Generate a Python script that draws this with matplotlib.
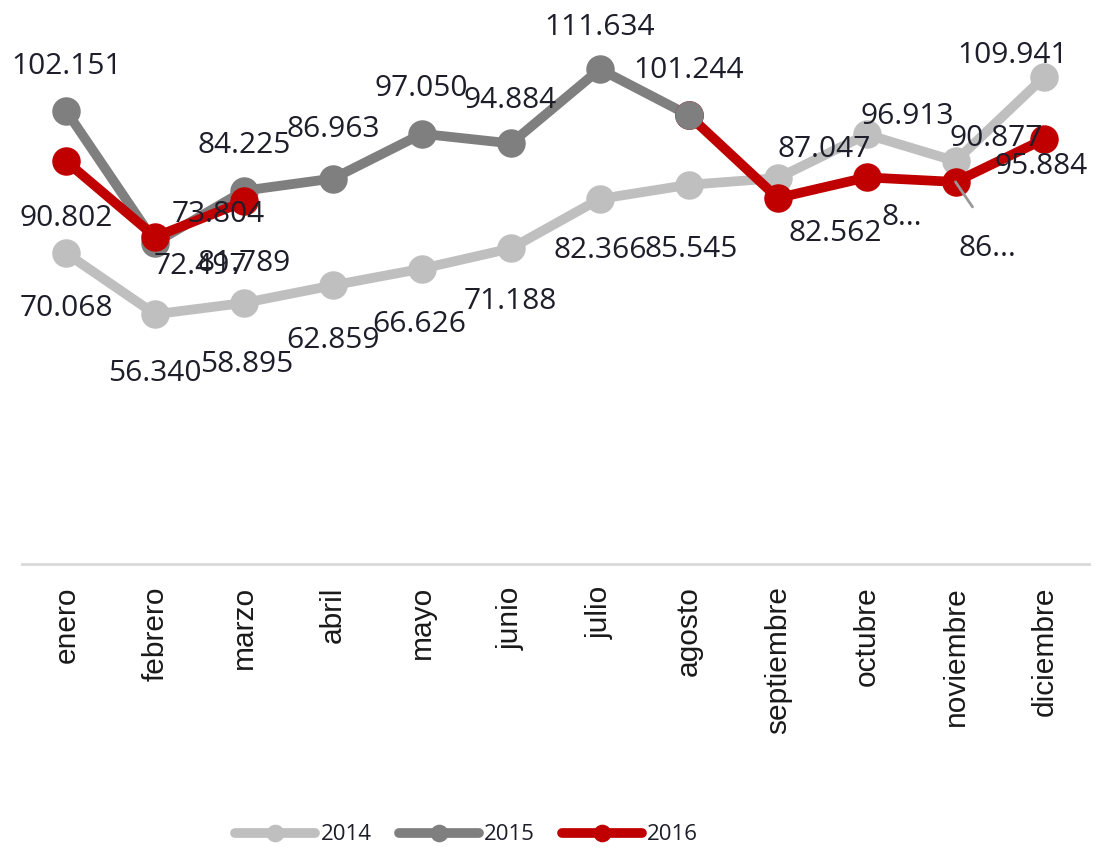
"""
Monthly values 2014-2016 as a line chart with data labels, in Spanish.
"""

import numpy as np
import matplotlib.pyplot as plt

PLOT_FILE = "out.png"

# Categories and series
MONTHS = ["enero", "febrero", "marzo", "abril", "mayo", "junio", "julio",
          "agosto", "septiembre", "octubre", "noviembre", "diciembre"]
YEARS = ["2014", "2015", "2016"]

VALUES_2014 = [70.068, 56.340, 58.895, 62.859, 66.626, 71.188, 82.366,
               85.545, 87.047, 96.913, 90.877, 109.941]
VALUES_2015 = [102.151, 72.497, 84.225, 86.963, 97.050, 94.884, 111.634,
               101.244, np.nan, np.nan, np.nan, np.nan]
VALUES_2016 = [90.802, 73.804, 81.789, np.nan, np.nan, np.nan, np.nan,
               101.244, 82.562, 87.214, 86.195, 95.884]

# Characters kept of each 2016 label (None = full label, 0 = no label)
TRUNC_2016 = [None, None, None, 0, 0, 0, 0, 0, None, 1, 2, None]

# Style
COLORS = {"2014": "#BFBFBF", "2015": "#7F7F7F", "2016": "#C00000"}
LABEL_COLOR = "#1E1E2A"
LABEL_FONT = "Open Sans"
TICK_FONT = "Liberation Sans"

# Label offsets in pixels (dx, dy up)
OFFSETS_2014 = [(0, -55), (0, -59), (2, -62), (0, -55), (-3, -56), (-1, -53),
                (0, -52), (2, -65), (47, 29), (41, 18), (41, 23), (-32, 21)]
OFFSETS_2015 = [(0, 45), (45, -24), (0, 45), (0, 49), (-1, 45), (-1, 43),
                (0, 42), (0, 45), None, None, None, None]
OFFSETS_2016 = [(0, -57), (63, 22), (0, -62), None, None, None, None, None,
                (58, -35), (35, -40), (32, -67), (-3, -28)]


def fmt(value):
    return f"{value:.3f}"


def add_labels(ax, x, values, offsets, trunc=None):
    for i, (val, off) in enumerate(zip(values, offsets)):
        if off is None or np.isnan(val):
            continue
        text = fmt(val)
        if trunc is not None:
            if trunc[i] == 0:
                continue
            if trunc[i] is not None:
                text = text[:trunc[i]] + "..."
        ax.annotate(text, (x[i], val), xytext=off, textcoords="offset pixels",
                    ha="center", va="center", fontsize=21.5,
                    family=LABEL_FONT, color=LABEL_COLOR,
                    annotation_clip=False, zorder=10)


def plot_chart():
    fig = plt.figure(figsize=(10.96, 8.51), dpi=100)
    ax = fig.add_axes([0.020, 0.3373, 0.9735, 0.625])
    x = np.arange(len(MONTHS))

    line_kw = dict(linewidth=7, marker="o", markersize=19.5,
                   solid_capstyle="round", solid_joinstyle="round")
    ax.plot(x, VALUES_2014, color=COLORS["2014"], label="2014", zorder=2,
            **line_kw)
    ax.plot(x, VALUES_2015, color=COLORS["2015"], label="2015", zorder=3,
            **line_kw)
    ax.plot(x, VALUES_2016, color=COLORS["2016"], label="2016", zorder=4,
            **line_kw)
    # last 2015 point sits over the start of the red segment
    ax.plot(x[7], VALUES_2015[7], marker="o", markersize=19.5,
            color=COLORS["2015"], zorder=5)

    add_labels(ax, x, VALUES_2014, OFFSETS_2014)
    add_labels(ax, x, VALUES_2015, OFFSETS_2015)
    add_labels(ax, x, VALUES_2016, OFFSETS_2016, TRUNC_2016)

    # leader line for the noviembre 2016 label
    ax.annotate("", (x[10], VALUES_2016[10]), xytext=(17, -25),
                textcoords="offset pixels",
                arrowprops=dict(arrowstyle="-", color="#999999", lw=2,
                                shrinkA=0, shrinkB=0), zorder=6)

    ax.set_xlim(-0.5, len(MONTHS) - 0.5)
    ax.set_ylim(0, 120)
    ax.set_xticks(x)
    ax.set_xticklabels(MONTHS, rotation=90, fontsize=21.5, family=TICK_FONT,
                       color="#1A1A1A")
    ax.tick_params(axis="x", length=0, pad=16)
    ax.set_yticks([])
    for side in ("top", "left", "right"):
        ax.spines[side].set_visible(False)
    ax.spines["bottom"].set_color("#D9D9D9")
    ax.spines["bottom"].set_linewidth(2)

    leg = fig.legend(loc="center", bbox_to_anchor=(0.426, 0.019),
                     ncol=3, frameon=False, handlelength=3.6,
                     handletextpad=0.25, columnspacing=1.2, markerscale=0.6,
                     prop={"family": LABEL_FONT, "size": 16})
    for text in leg.get_texts():
        text.set_color(LABEL_COLOR)

    fig.savefig(PLOT_FILE, dpi=100)


if __name__ == "__main__":
    plot_chart()
